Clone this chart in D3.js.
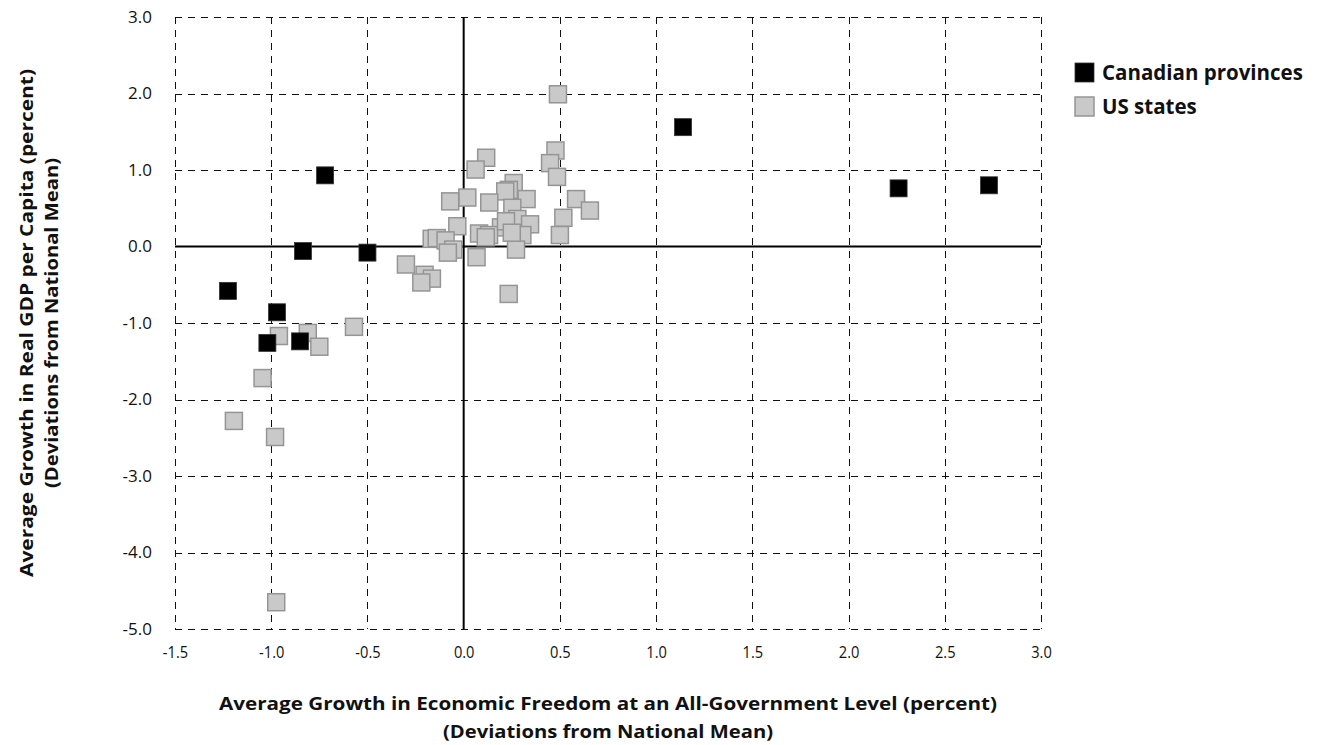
<!DOCTYPE html>
<html>
<head>
<meta charset="utf-8">
<script src="https://cdn.jsdelivr.net/npm/d3@7"></script>
<style>
  html, body { margin: 0; padding: 0; background: #fff; }
  svg { display: block; font-family: "Open Sans", "Noto Sans", sans-serif; }
</style>
</head>
<body>
<svg id="chart" width="1322" height="745"></svg>
<script>
// Average growth in economic freedom (x) vs average growth in real GDP per capita (y),
// both as deviations from the national mean.
const canadaX = [1.14, 2.26, 2.73, -0.72, -0.835, -0.50, -1.225, -0.97, -1.02, -0.85];
const canadaY = [1.56, 0.76, 0.80, 0.93, -0.06, -0.08, -0.58, -0.86, -1.26, -1.24];

const usX = [0.49, 0.477, 0.117, 0.449, 0.062, 0.485, 0.26, 0.235, 0.216, 0.584,
             0.019, -0.07, 0.133, 0.327, 0.656, 0.253, 0.518, -0.033, 0.279, 0.345,
             0.194, 0.305, 0.50, 0.08, 0.132, 0.115, -0.166, -0.14, -0.094, -0.054,
             -0.082, 0.272, 0.067, -0.30, -0.203, -0.165, -0.22, 0.234, 0.22, 0.25,
             -0.57, -0.96, -0.81, -0.75, -1.045, -1.194, -0.98, -0.974];
const usY = [1.99, 1.255, 1.16, 1.09, 1.006, 0.91, 0.83, 0.74, 0.72, 0.62,
             0.64, 0.59, 0.575, 0.62, 0.47, 0.506, 0.375, 0.265, 0.36, 0.29,
             0.25, 0.15, 0.15, 0.17, 0.15, 0.12, 0.10, 0.11, 0.08, -0.04,
             -0.08, -0.04, -0.14, -0.235, -0.37, -0.42, -0.47, -0.62, 0.33, 0.18,
             -1.05, -1.17, -1.13, -1.31, -1.72, -2.28, -2.49, -4.65];

const xTicks = [-1.5, -1.0, -0.5, 0.0, 0.5, 1.0, 1.5, 2.0, 2.5, 3.0];
const yTicks = [3.0, 2.0, 1.0, 0.0, -1.0, -2.0, -3.0, -4.0, -5.0];

const seriesNames = ["Canadian provinces", "US states"];
const xTitle = ["Average Growth in Economic Freedom at an All-Government Level (percent)",
                "(Deviations from National Mean)"];
const yTitle = ["Average Growth in Real GDP per Capita (percent)",
                "(Deviations from National Mean)"];

const svg = d3.select("#chart");
const margin = { left: 175, right: 1041, top: 17, bottom: 629 };

const x = d3.scaleLinear().domain([-1.5, 3.0]).range([margin.left, margin.right]);
const y = d3.scaleLinear().domain([-5.0, 3.0]).range([margin.bottom, margin.top]);

const usPts = usX.map((v, i) => ({ x: v, y: usY[i] }));
const caPts = canadaX.map((v, i) => ({ x: v, y: canadaY[i] }));

const fmt = d => d.toFixed(1);

// dashed grid (including the frame)
const grid = svg.append("g").attr("stroke", "#111").attr("stroke-width", 1)
  .attr("stroke-dasharray", "7,6").attr("fill", "none");
grid.selectAll("line.v").data(xTicks.filter(d => d !== 0)).join("line")
  .attr("class", "v")
  .attr("x1", d => Math.round(x(d)) + 0.5).attr("x2", d => Math.round(x(d)) + 0.5)
  .attr("y1", margin.top).attr("y2", margin.bottom);
grid.selectAll("line.h").data(yTicks.filter(d => d !== 0)).join("line")
  .attr("class", "h")
  .attr("y1", d => Math.round(y(d)) + 0.5).attr("y2", d => Math.round(y(d)) + 0.5)
  .attr("x1", margin.left).attr("x2", margin.right);

// solid zero axes
svg.append("line").attr("x1", x(0)).attr("x2", x(0))
  .attr("y1", margin.top).attr("y2", margin.bottom)
  .attr("stroke", "#000").attr("stroke-width", 2);
svg.append("line").attr("x1", margin.left).attr("x2", margin.right)
  .attr("y1", y(0)).attr("y2", y(0))
  .attr("stroke", "#000").attr("stroke-width", 2);

// tick labels via axes
const xAxis = svg.append("g").attr("transform", `translate(0,${margin.bottom})`)
  .call(d3.axisBottom(x).tickValues(xTicks).tickFormat(fmt).tickSize(0).tickPadding(17));
xAxis.select(".domain").remove();
xAxis.attr("font-size", null).attr("font-family", null);
xAxis.selectAll("text")
  .style("font-size", "17px").style("font-family", "'Open Sans', sans-serif").attr("fill", "#111")
  .each(function () {
    const w = this.getComputedTextLength();
    d3.select(this).attr("textLength", w * 0.86).attr("lengthAdjust", "spacingAndGlyphs");
  });

const yAxis = svg.append("g").attr("transform", `translate(${margin.left},0)`)
  .call(d3.axisLeft(y).tickValues(yTicks).tickFormat(fmt).tickSize(0).tickPadding(23));
yAxis.select(".domain").remove();
yAxis.attr("font-size", null).attr("font-family", null);
yAxis.selectAll("text")
  .style("font-size", "17px").style("font-family", "'Open Sans', sans-serif").attr("fill", "#111");

// markers
const size = 17;
svg.append("g").selectAll("rect").data(usPts).join("rect")
  .attr("x", d => x(d.x) - size / 2).attr("y", d => y(d.y) - size / 2)
  .attr("width", size).attr("height", size)
  .attr("fill", "#c9c9c9").attr("stroke", "#959595").attr("stroke-width", 1.5);
svg.append("g").selectAll("rect").data(caPts).join("rect")
  .attr("x", d => x(d.x) - size / 2).attr("y", d => y(d.y) - size / 2)
  .attr("width", size).attr("height", size)
  .attr("fill", "#000").attr("stroke", "#333").attr("stroke-width", 0.8);

// legend
const legend = svg.append("g").attr("transform", "translate(1075,63)");
const legendStyles = [
  { fill: "#000", stroke: "#333" },
  { fill: "#c9c9c9", stroke: "#959595" }
];
seriesNames.forEach((name, i) => {
  const g = legend.append("g").attr("transform", `translate(0,${i * 34})`);
  g.append("rect").attr("width", 19).attr("height", 19)
    .attr("fill", legendStyles[i].fill).attr("stroke", legendStyles[i].stroke)
    .attr("stroke-width", i === 1 ? 1.5 : 0.8);
  g.append("text").attr("x", 27).attr("y", 17)
    .attr("font-size", 20.5).attr("font-weight", "bold").attr("fill", "#111")
    .text(name);
});

// axis titles
const cx = (margin.left + margin.right) / 2;
const xt = svg.append("text").attr("text-anchor", "middle")
  .attr("font-size", 18).attr("font-weight", "bold").attr("fill", "#111");
xt.append("tspan").attr("x", cx).attr("y", 710).text(xTitle[0]);
xt.append("tspan").attr("x", cx).attr("y", 738).text(xTitle[1]);
xt.selectAll("tspan").each(function (d, i) {
  const w = [778, 330][i];
  d3.select(this).attr("textLength", w).attr("lengthAdjust", "spacingAndGlyphs");
});

const cy = (margin.top + margin.bottom) / 2;
const yt = svg.append("text").attr("text-anchor", "middle")
  .attr("transform", `translate(0,${cy}) rotate(-90)`)
  .attr("font-size", 18).attr("font-weight", "bold").attr("fill", "#111");
yt.append("tspan").attr("x", 0).attr("y", 33).attr("textLength", 508)
  .attr("lengthAdjust", "spacingAndGlyphs").text(yTitle[0]);
yt.append("tspan").attr("x", 0).attr("y", 58).attr("textLength", 330)
  .attr("lengthAdjust", "spacingAndGlyphs").text(yTitle[1]);
</script>
</body>
</html>
